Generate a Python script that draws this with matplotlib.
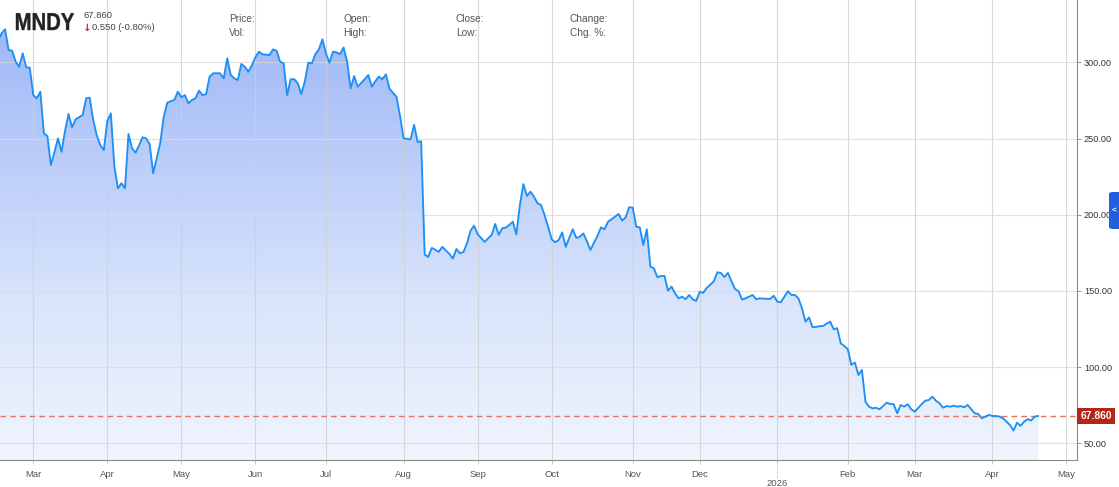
import numpy as np
import pandas as pd
import matplotlib
matplotlib.use("Agg")
import matplotlib.pyplot as plt
from matplotlib import font_manager as fm
from matplotlib.patches import Polygon, FancyBboxPatch, PathPatch
from matplotlib.colors import LinearSegmentedColormap
from matplotlib.textpath import TextPath
import matplotlib.transforms as mtransforms

# ---------------- data (closing prices per trading day) ----------------
feb25 = [314, 319, 321.7, 308, 307.6, 300.4, 297.1, 305.9, 296.7, 296.5]
mar25 = [278.5, 276.4, 280.7, 253.4, 251.6, 232.6, 241, 250.1, 241.3, 255, 266.1, 257.3, 262.6,
         264, 265.4, 276.4, 276.8, 262.1, 252, 245.7, 242.4]
apr25 = [261.5, 266.5, 231.5, 217.3, 220.6, 217.3, 253.0, 243.6, 240.7, 245.5, 250.8, 250.1,
         246.4, 227.2, 237.0, 246.9, 264.3, 273.5, 274.5, 275.3, 280.7]
may25 = [277, 278.5, 273.1, 275.3, 276.4, 281.4, 278.5, 279, 290.6, 292.8, 292.8, 292.8, 289.5,
         302.6, 291.7, 289.5, 288.4, 298.9, 297.1, 293.8, 298]
jun25 = [303.3, 307, 305.3, 305, 304.8, 308.5, 307.6, 300.4, 299.3, 278.5, 288.9, 288.9, 286.2,
         279.2, 287.3, 299.7, 299.3, 305.4, 308.5, 315.1]
jul25 = [305.9, 299.7, 307, 306.5, 305.4, 309.8, 300.4, 282.9, 291, 284, 286.5, 288.9, 291.7,
         284, 287.5, 290.6, 288.9, 292.1, 282.9, 280, 277.4, 265]
aug25 = [250.1, 249.8, 249.5, 258.9, 247.6, 248.2, 173.8, 172.3, 178.2, 177, 175.6, 178.9,
         176.5, 174.3, 171.2, 177.5, 174.7, 175.5, 181.2, 189.5, 192.8]
sep25 = [187.3, 184.7, 182.1, 184.5, 186.7, 193.9, 186.7, 191.1, 191.5, 193.3, 195.4, 187,
         206.4, 220.1, 212.3, 215.1, 211.8, 207.5, 206.4, 199.8, 192.1]
oct25 = [183.9, 181.9, 183.4, 188.4, 178.9, 184.8, 190.4, 184.8, 185.5, 187.7, 182.6, 176.8,
         181.6, 186, 191.7, 190.4, 195.4, 197, 198.7, 200.5, 196.1, 198.3, 204.9]
nov25 = [204.6, 192.1, 191.7, 180.1, 190.4, 165.9, 164.8, 158.9, 159.8, 159.8, 150.1, 152.8,
         148.4, 145.1, 146.2, 144.5, 147.3, 144.5, 143.4]
dec25 = [149.4, 148.7, 152, 154.1, 156.3, 162.2, 161.8, 159.1, 161.8, 156.3, 151.3, 149.8,
         144.3, 145.1, 146.2, 147.3, 144.5, 145.1, 144.9, 144.8, 144.7, 146.8]
jan26 = [142.9, 142.5, 146.2, 149.8, 147.3, 147.3, 145.1, 138.6, 129.8, 132.6, 126.1, 126.4,
         126.8, 127, 128.5, 129.8, 124.8, 125.5, 115.6, 113.8]
feb26 = [111.7, 101.4, 103, 94.8, 98.1, 77.3, 74, 72.9, 73.3, 72.3, 74.4, 76.6, 75.8, 75.6,
         69.7, 75.1, 74, 75.6, 72.3]
mar26 = [70.7, 73.3, 75.8, 77.9, 78.4, 80.6, 77.9, 76.2, 73.3, 74.4, 74, 74.6, 74, 74.4, 73.6,
         75.1, 72.3, 69.7, 69.2, 66.4, 67.5, 68.6]
apr26 = [67.9, 67.9, 67.5, 66.4, 64.2, 62, 58.3, 63.5, 61.4, 64.2, 65.8, 64.9, 67.5, 67.86]

ticker = "MNDY"
last_price = "67.860"
change_text = "0.550 (-0.80%)"
last_value = 67.86
yticks = [50, 100, 150, 200, 250, 300]
holidays = ["2025-02-17", "2025-04-18", "2025-05-26", "2025-06-19", "2025-07-04",
            "2025-09-01", "2025-11-27", "2025-12-25", "2026-01-01", "2026-01-19",
            "2026-02-16", "2026-04-03", "2026-05-25"]

values = np.array(feb25 + mar25 + apr25 + may25 + jun25 + jul25 + aug25 + sep25 + oct25
                  + nov25 + dec25 + jan26 + feb26 + mar26 + apr26, dtype=float)
cal = pd.bdate_range("2025-02-14", "2026-05-29", freq="C", holidays=holidays)
xs = np.arange(len(values))

# ---------------- fonts ----------------
avail = {f.name for f in fm.fontManager.ttflist}
def pick(*names):
    for n in names:
        if n in avail:
            return n
    return "DejaVu Sans"
base = pick("Liberation Sans", "Roboto", "DejaVu Sans")
plt.rcParams["font.family"] = [base, "DejaVu Sans"]

W, H = 1119, 487
fig = plt.figure(figsize=(W / 100, H / 100), dpi=100)
ax = fig.add_axes([0, 1 - 460 / H, 1077 / W, 460 / H])

ymin, ymax = 39.0, 340.9
mar3 = int(np.where(cal == pd.Timestamp("2025-03-03"))[0][0])
xmin, xmax = mar3 - 9.44, mar3 + 296.0
ax.set_xlim(xmin, xmax)
ax.set_ylim(ymin, ymax)

# gradient fill under the curve
cmap = LinearSegmentedColormap.from_list(
    "g", [(0.0, (0.94, 0.96, 0.995)), (0.35, (0.85, 0.895, 0.985)), (1.0, (0.60, 0.70, 0.965))])
grad = np.linspace(0, 1, 256).reshape(-1, 1)
im = ax.imshow(grad, extent=[xmin, xmax, ymin, ymax], origin="lower", aspect="auto",
               cmap=cmap, zorder=1)
verts = np.column_stack([np.r_[xs[0], xs, xs[-1]], np.r_[ymin, values, ymin]])
poly = Polygon(verts, closed=True, facecolor="none", edgecolor="none", transform=ax.transData)
ax.add_patch(poly)
im.set_clip_path(poly)

ax.plot(xs, values, color="#1E90F5", lw=1.35, zorder=4, solid_joinstyle="round")
ax.axhline(last_value, color="#E4725F", lw=1.0, ls=(0, (4, 3)), zorder=3)

# grid
ax.set_yticks(yticks)
ax.set_yticklabels([f"{v:.2f}" for v in yticks])
month_idx, month_lab = [], []
for (yy, mm), grp in pd.Series(np.arange(len(cal)), index=cal).groupby([cal.year, cal.month]):
    i = grp.iloc[0]
    if pd.Timestamp(year=yy, month=mm, day=1) >= pd.Timestamp("2025-03-01") and i <= xmax:
        month_idx.append(i)
        month_lab.append("" if mm == 1 else cal[i].strftime("%b"))
ax.set_xticks(month_idx)
ax.set_xticklabels(month_lab)
ax.set_axisbelow(False)
ax.grid(True, axis="y", color="#D9D9D9", lw=0.8, alpha=0.8, zorder=2)
ax.grid(True, axis="x", color="#CFCFCF", lw=0.8, alpha=0.8, zorder=2)

ax.yaxis.tick_right()
ax.tick_params(axis="y", which="both", direction="out", length=3, width=0.6, color="#888888",
               labelsize=6.6, labelcolor="#333333", pad=2)
ax.tick_params(axis="x", which="both", direction="out", length=3, width=0.6, color="#BBBBBB",
               labelsize=6.8, labelcolor="#555555", pad=4)
for s in ["left", "top"]:
    ax.spines[s].set_visible(False)
for s in ["right", "bottom"]:
    ax.spines[s].set_color("#8A8A8A")
    ax.spines[s].set_linewidth(0.8)

# 2026 year marker
jan_i = month_idx[month_lab.index("")]
tr = mtransforms.blended_transform_factory(ax.transData, ax.transAxes)
ax.plot([jan_i, jan_i], [0, -0.04], transform=tr, color="#AAAAAA", lw=0.6, ls=(0, (1, 1)),
        clip_on=False)
ax.text(jan_i, -0.051, "2026", transform=tr, ha="center", va="center", fontsize=6.8,
        color="#555555")

# last price box (left edge on the spine)
box_tr = mtransforms.blended_transform_factory(ax.transAxes, ax.transData) + \
    mtransforms.ScaledTranslation(3.5 / 100, 0, fig.dpi_scale_trans)
ax.text(1.0, last_value, last_price, transform=box_tr,
        ha="left", va="center", fontsize=7.4, color="white", fontweight="bold",
        bbox=dict(boxstyle="square,pad=0.3", fc="#B4261B", ec="none"), zorder=5)

# header texts
def P(x, y):
    return x / W, 1 - y / H

# condensed bold ticker: bold glyph outlines squeezed horizontally (in pixel units)
fp = fm.FontProperties(family=base, weight="bold")
tp = TextPath((0, 0), ticker, size=24.5, prop=fp)
ext = tp.get_extents()
sx = 58.0 / ext.width
t = mtransforms.Affine2D().scale(sx, 1.0).translate(16 - ext.x0 * sx, H - 30)
fig.patches.append(PathPatch(t.transform_path(tp), fc="#222222", ec="#222222", lw=0.3,
                             transform=None))

fig.text(*P(83, 15), last_price, fontsize=6.8, color="#444444", va="center", ha="left")
fig.text(*P(83, 28), "\u2193", fontsize=7.5, color="#E0242B", fontweight="bold", va="center",
         ha="left", fontfamily=["DejaVu Sans"])
fig.text(*P(92, 28), change_text, fontsize=6.8, color="#444444", va="center", ha="left")
for xx, top, bot in [(229, "Price:", "Vol:"), (343, "Open:", "High:"), (456, "Close:", "Low:"),
                     (570, "Change:", "Chg. %:")]:
    fig.text(*P(xx, 19), top, fontsize=7.3, color="#555555", va="center", ha="left")
    fig.text(*P(xx, 33), bot, fontsize=7.3, color="#555555", va="center", ha="left")

# side tab
tab = FancyBboxPatch((1109 / W, 1 - 229 / H), 14 / W, 37 / H,
                     boxstyle="round,pad=0,rounding_size=0.004", transform=fig.transFigure,
                     fc="#1F5FE0", ec="none")
fig.patches.append(tab)
fig.text(*P(1114, 211), "<", fontsize=6, color="white", ha="center", va="center",
         fontweight="bold")

fig.savefig("out.png", dpi=100)
